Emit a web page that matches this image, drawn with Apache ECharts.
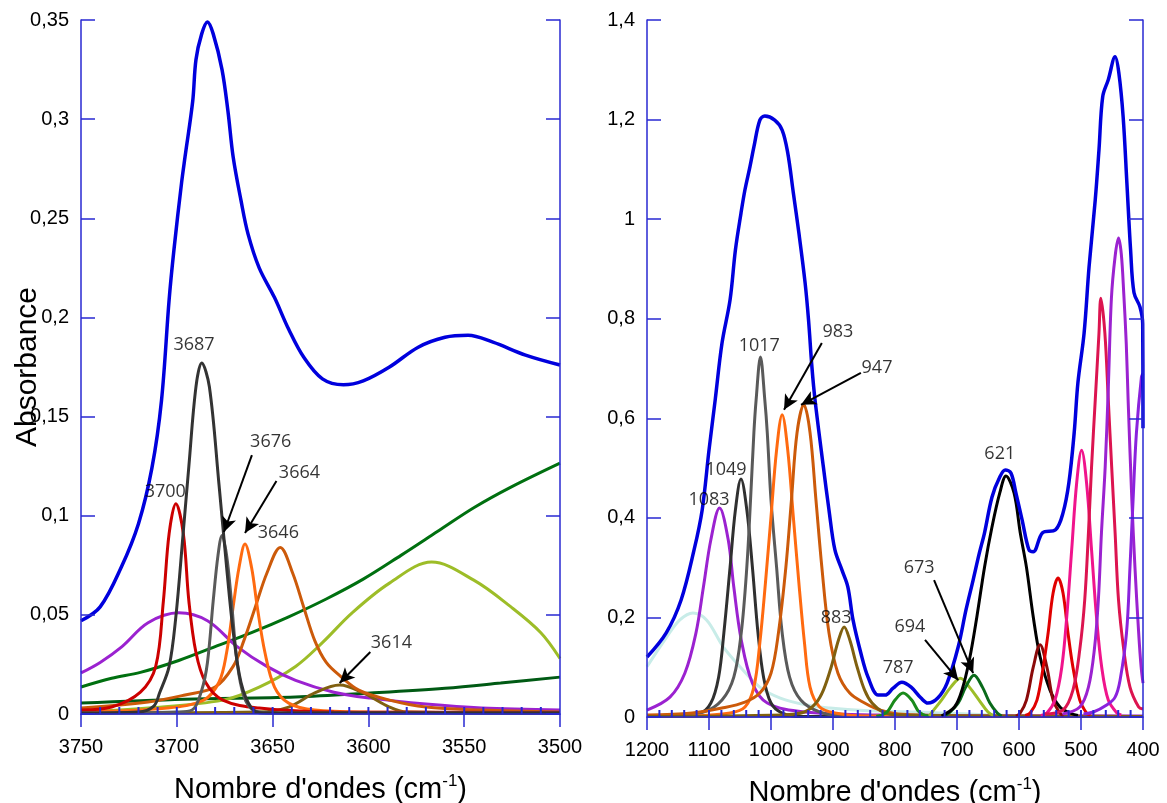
<!DOCTYPE html>
<html><head><meta charset="utf-8">
<script src="https://cdn.jsdelivr.net/npm/echarts@6/dist/echarts.min.js"></script>
<style>html,body{margin:0;padding:0;background:#fff}#c{width:1167px;height:803px}</style>
</head><body><div id="c"></div>
<script>
// ---------- LEFT PANEL DATA (wavenumber cm-1, absorbance) ----------
const L_total = [[3750,0.047],[3740,0.054],[3729,0.074],[3720,0.096],[3713,0.124],[3708,0.158],[3704,0.209],[3701.5,0.234],[3697.5,0.268],[3695.7,0.281],[3691.7,0.309],[3690,0.330],[3687,0.343],[3684,0.349],[3681,0.343],[3676.4,0.325],[3673.3,0.304],[3670.6,0.281],[3666.5,0.259],[3662.8,0.242],[3657,0.225],[3649,0.210],[3641.6,0.194],[3633.8,0.180],[3624,0.169],[3613,0.166],[3602.7,0.168],[3589,0.175],[3574,0.185],[3560,0.190],[3548,0.191],[3535,0.1875],[3518,0.181],[3500,0.176]];
const L_3687 = [[3750,0.0005],[3720,0.001],[3712,0.004],[3709,0.0106],[3704,0.024],[3700.5,0.049],[3696.7,0.091],[3693.7,0.125],[3690,0.165],[3687,0.177],[3683,0.165],[3678,0.116],[3674,0.074],[3670.5,0.041],[3666.5,0.016],[3661,0.003],[3655,0.0005],[3500,0.0005]];
const L_3676 = [[3750,0.0005],[3700,0.001],[3692,0.002],[3687,0.012],[3684,0.026],[3681,0.057],[3678.5,0.080],[3676.4,0.090],[3674,0.080],[3671.5,0.057],[3668.5,0.026],[3665,0.009],[3660,0.002],[3650,0.0005],[3500,0.0005]];
const L_3700 = [[3750,0.002],[3734,0.0035],[3719,0.011],[3711,0.024],[3707,0.057],[3704,0.091],[3700.5,0.106],[3696.6,0.091],[3693.7,0.057],[3690,0.031],[3685,0.016],[3676,0.007],[3657,0.003],[3618,0.001],[3500,0.0008]];
const L_3664 = [[3750,0.001],[3705,0.003],[3686,0.007],[3678,0.016],[3674,0.031],[3670.6,0.054],[3667.5,0.074],[3664.4,0.0857],[3661,0.074],[3658,0.054],[3654,0.031],[3649,0.0136],[3641.6,0.0055],[3628,0.002],[3600,0.001],[3500,0.0005]];
const L_3646 = [[3750,0.003],[3715,0.006],[3695.7,0.0096],[3680,0.0136],[3670.6,0.024],[3665,0.037],[3659,0.054],[3653,0.071],[3646,0.084],[3639.5,0.071],[3633.8,0.054],[3628,0.037],[3622,0.026],[3614.5,0.019],[3605,0.012],[3589,0.007],[3570,0.0035],[3541,0.002],[3500,0.001]];
const L_3614 = [[3750,0.0005],[3657,0.001],[3641.6,0.0035],[3628,0.0106],[3615,0.0146],[3602.7,0.0106],[3589,0.0035],[3580,0.001],[3500,0.0005]];
const L_3567 = [[3750,0.001],[3715,0.003],[3676,0.007],[3657,0.0136],[3638,0.024],[3624,0.036],[3608.5,0.051],[3589,0.066],[3567,0.0766],[3545,0.0675],[3525.6,0.054],[3510,0.041],[3500,0.028]];
const L_3699b = [[3750,0.0207],[3740,0.026],[3728.6,0.034],[3715,0.046],[3699,0.051],[3684,0.047],[3668.5,0.034],[3653,0.024],[3638,0.017],[3618,0.011],[3599,0.008],[3570,0.005],[3541,0.003],[3500,0.002]];
const L_green1 = [[3750,0.0136],[3734,0.018],[3719,0.021],[3699,0.027],[3680,0.034],[3661,0.041],[3641.6,0.049],[3622,0.058],[3602.7,0.068],[3583,0.080],[3564,0.092],[3545,0.104],[3525.6,0.1144],[3500,0.1265]];
const L_green2 = [[3750,0.0055],[3696,0.0075],[3638,0.0086],[3599,0.0106],[3560,0.013],[3531,0.0156],[3500,0.0186]];
const L_base = [[3750,0.0005],[3500,0.0005]];

// ---------- RIGHT PANEL DATA ----------
const R_total = [[1200,0.1205],[1169,0.169],[1145,0.235],[1124,0.336],[1111,0.416],[1100,0.536],[1090,0.637],[1079,0.751],[1066,0.838],[1057.4,0.938],[1048.4,1.012],[1042,1.059],[1034,1.105],[1027.6,1.145],[1018,1.199],[1010,1.207],[994,1.199],[982,1.179],[973,1.133],[964,1.053],[955,0.972],[945,0.872],[939.5,0.798],[934,0.703],[929,0.637],[915.5,0.502],[906.5,0.416],[897,0.336],[885.5,0.295],[876,0.261],[867.7,0.195],[855,0.128],[843.5,0.080],[827,0.044],[816,0.044],[803,0.058],[789,0.070],[774,0.060],[758,0.038],[747,0.028],[731,0.038],[716,0.068],[698,0.141],[685.5,0.215],[674,0.275],[664,0.329],[655.6,0.370],[643.5,0.442],[631,0.482],[622,0.496],[613,0.490],[605,0.450],[595,0.396],[584,0.336],[577,0.332],[562,0.370],[541,0.376],[529,0.410],[519.6,0.470],[511,0.571],[505,0.671],[495,0.771],[487,0.904],[477,1.039],[471,1.139],[465,1.246],[456,1.280],[445,1.326],[439,1.294],[432,1.205],[426,1.073],[420,0.938],[414.5,0.852],[405,0.824],[400.5,0.79],[400,0.58]];
const R_1125 = [[1200,0.101],[1168,0.161],[1147,0.195],[1126,0.209],[1104,0.195],[1077,0.141],[1050,0.101],[1018,0.060],[985,0.038],[942,0.024],[905,0.018],[850,0.013],[764,0.010],[643,0.004],[523,0.002],[400,0.001]];
const R_1083 = [[1200,0.014],[1163,0.040],[1139,0.088],[1121,0.169],[1109,0.261],[1097,0.356],[1083,0.420],[1069,0.356],[1060,0.261],[1048,0.155],[1030,0.068],[1006,0.028],[946,0.010],[824,0.004],[400,0.002]];
const R_1049 = [[1200,0.001],[1115,0.008],[1097,0.028],[1084.5,0.080],[1076,0.169],[1066,0.301],[1057.4,0.416],[1048.4,0.478],[1039,0.416],[1030,0.301],[1021,0.169],[1012,0.080],[1000,0.028],[982,0.008],[950,0.001],[400,0.001]];
const R_1017 = [[1200,0.002],[1165,0.004],[1109,0.010],[1079,0.034],[1060,0.080],[1048,0.169],[1039,0.301],[1033,0.436],[1027.6,0.571],[1024,0.637],[1017,0.723],[1010,0.637],[1006,0.571],[1000,0.436],[991,0.301],[982,0.169],[970,0.080],[952,0.034],[921.5,0.010],[880,0.002],[400,0.001]];
const R_983 = [[1200,0.001],[1127,0.002],[1066,0.008],[1042,0.020],[1027.6,0.060],[1018,0.149],[1009,0.269],[1000,0.402],[991,0.536],[982,0.607],[973,0.536],[964,0.402],[955,0.269],[946,0.149],[937,0.060],[921.5,0.020],[897,0.008],[850,0.002],[400,0.001]];
const R_947 = [[1200,0.004],[1127,0.008],[1079,0.018],[1042,0.030],[1018,0.048],[1000,0.088],[988,0.169],[976,0.301],[967,0.436],[958,0.571],[947,0.627],[937,0.571],[927.5,0.436],[918,0.301],[906.5,0.169],[892,0.088],[873,0.048],[849,0.028],[825,0.014],[795,0.006],[700,0.002],[400,0.001]];
const R_883 = [[1200,0.001],[982,0.004],[946,0.010],[927.5,0.028],[915.5,0.054],[903,0.100],[891,0.155],[882,0.181],[873,0.155],[861,0.100],[849,0.054],[837,0.028],[819,0.010],[795,0.004],[400,0.001]];
const R_787 = [[830,0.001],[813,0.010],[800,0.034],[787,0.048],[773,0.034],[761,0.010],[745,0.001]];
const R_694 = [[745,0.002],[740,0.010],[725,0.034],[710,0.060],[694.5,0.078],[680,0.060],[664.5,0.034],[650,0.010],[640,0.002]];
const R_673 = [[720,0.002],[713,0.008],[698,0.028],[686,0.060],[672.6,0.084],[659,0.060],[647,0.028],[635,0.008],[628,0.002]];
const R_621 = [[725,0.002],[704,0.020],[692,0.054],[680,0.115],[668,0.201],[655.6,0.301],[643.5,0.382],[631,0.450],[621,0.484],[608,0.450],[598,0.370],[588,0.301],[577,0.201],[566,0.121],[550,0.054],[534,0.020],[518,0.008],[505,0.003]];
const R_566 = [[605,0.002],[598,0.008],[588,0.034],[577,0.100],[566,0.145],[555,0.100],[545,0.034],[534,0.008],[528,0.002]];
const R_537 = [[590,0.003],[582,0.008],[571,0.034],[561,0.100],[553,0.169],[545,0.249],[537,0.279],[529,0.249],[521,0.169],[513,0.100],[502,0.034],[491,0.008],[485,0.003]];
const R_499 = [[565,0.003],[555,0.008],[542,0.034],[531,0.100],[523,0.201],[515,0.336],[507,0.470],[499,0.536],[491,0.470],[483,0.336],[475,0.201],[466.6,0.100],[456,0.034],[442,0.008],[435,0.004]];
const R_468 = [[560,0.006],[529,0.014],[513,0.054],[502,0.135],[494,0.235],[488,0.370],[483,0.502],[477,0.637],[471,0.771],[468,0.841],[461.5,0.771],[456,0.637],[450.5,0.502],[445,0.370],[439.5,0.235],[431,0.135],[421,0.060],[407,0.020],[400,0.016]];
const R_440 = [[530,0.006],[502,0.020],[488,0.060],[478.5,0.135],[472,0.235],[467,0.370],[461,0.502],[456,0.66],[451,0.84],[445,0.925],[439.5,0.962],[435,0.93],[431,0.85],[427,0.75],[424,0.637],[418,0.436],[413,0.301],[407,0.169],[403,0.10],[400,0.068]];
const R_400 = [[496,0.006],[480,0.010],[458.6,0.024],[445,0.040],[437,0.074],[426.6,0.169],[421,0.301],[416,0.436],[410.6,0.571],[402.5,0.683],[400,0.69]];
const R_base = [[1200,0.001],[400,0.001]];

// ---------- AXES / TICKS ----------
const L_xRange = [3500, 3750], L_xStep = 50, L_xMinorStep = 10;
const L_yRange = [0, 0.35], L_yStep = 0.05;
const R_xRange = [400, 1200], R_xStep = 100, R_xMinorStep = 20;
const R_yRange = [0, 1.4], R_yStep = 0.2;

// ---------- ANNOTATIONS (label text, label position) / arrows (start, tip) ----------
const L_labels = [['3687',3691,0.186],['3700',3706,0.112],['3676',3651,0.137],['3664',3636,0.1215],['3646',3647,0.0913],['3614',3588,0.0358]];
const L_arrows = [[3660.8,0.1306,3675.4,0.0918],[3648,0.1175,3664.4,0.0913],[3599,0.0313,3615,0.0156]];
const R_labels = [['1017',1019,0.745],['983',892,0.773],['947',829,0.701],['1049',1072.6,0.496],['1083',1100,0.436],['883',895,0.199],['787',795,0.098],['694',776,0.181],['673',761,0.299],['621',631,0.528]];
const R_arrows = [[918,0.751,979,0.617],[855,0.691,951.6,0.627],[751.6,0.155,698,0.074],[737,0.275,674,0.088]];

const AX = '#2828d2';
const FONT = 'Liberation Sans, Arial, sans-serif';
const fmt = v => (Math.round(v * 1000) / 1000).toString().replace('.', ',');
const fmtX = v => String(v);

function tickValues(range, step) {
  const out = [];
  for (let v = range[0] + step; v < range[1]; v += step) out.push([v, 0]);
  return out;
}

function xMain(grid, range, step) {
  return {
    gridIndex: grid, type: 'value', min: range[0], max: range[1], interval: step, inverse: true,
    position: 'bottom', z: 12,
    axisLine: { show: true, onZero: false, lineStyle: { color: AX, width: 1.5 } },
    axisTick: { show: true, inside: false, length: 13, lineStyle: { color: AX, width: 1.5 } },
    axisLabel: { color: '#000', fontSize: 20, fontFamily: FONT, margin: 23, formatter: fmtX },
    splitLine: { show: false },
    name: '{a|Nombre d\'ondes (cm}{s|-1}{a|)}',
    nameLocation: 'middle', nameGap: 59,
    nameTextStyle: {
      rich: {
        a: { fontSize: 29, fontFamily: FONT, color: '#000', lineHeight: 34 },
        s: { fontSize: 17, fontFamily: FONT, color: '#000', lineHeight: 34, verticalAlign: 'top', padding: [0, 0, 14, 0] }
      }
    }
  };
}
function yLeft(grid, range, step, name) {
  return {
    gridIndex: grid, type: 'value', min: range[0], max: range[1], interval: step, position: 'left', z: 12,
    axisLine: { show: true, onZero: false, lineStyle: { color: AX, width: 1.5 } },
    axisTick: { show: true, inside: true, length: 14, lineStyle: { color: AX, width: 1.5 } },
    axisLabel: { color: '#000', fontSize: 20, fontFamily: FONT, margin: 12, formatter: fmt },
    splitLine: { show: false },
    name: name || '', nameLocation: 'middle', nameGap: 38, nameMoveOverlap: false,
    nameTextStyle: { fontSize: 30, fontFamily: FONT, color: '#000' }
  };
}
function yRight(grid, range, step) {
  return {
    gridIndex: grid, type: 'value', min: range[0], max: range[1], interval: step, position: 'right', z: 12,
    axisLine: { show: true, onZero: false, lineStyle: { color: AX, width: 1.5 } },
    axisTick: { show: true, inside: true, length: 14, lineStyle: { color: AX, width: 1.5 } },
    axisLabel: { show: false }, splitLine: { show: false }
  };
}

function line(data, color, xi, yi, width) {
  return {
    type: 'line', data: data, xAxisIndex: xi, yAxisIndex: yi, showSymbol: false, symbol: 'none',
    smooth: 0.35, lineStyle: { color: color, width: width || 3 }, itemStyle: { color: color },
    silent: true, z: 2
  };
}
// small inward minor ticks on the x axis, placed through the axis scale
function minorTicks(range, step, xi, yi) {
  return {
    type: 'scatter', xAxisIndex: xi, yAxisIndex: yi, data: tickValues(range, step),
    symbol: 'rect', symbolSize: [2, 7], symbolOffset: [0, -3.5], clip: false,
    itemStyle: { color: AX, opacity: 1 }, silent: true, z: 20
  };
}
function annot(labels, arrows, xi, yi) {
  return {
    type: 'scatter', xAxisIndex: xi, yAxisIndex: yi, symbolSize: 0, silent: true, z: 10,
    data: labels.map(l => ({ name: l[0], value: [l[1], l[2]] })),
    label: { show: true, position: 'inside', formatter: '{b}', color: '#000', fontSize: 18, fontFamily: 'Open Sans, sans-serif', textBorderWidth: 0 },
    markLine: {
      silent: true, symbol: ['none', 'arrow'], symbolSize: [11, 15], animation: false,
      label: { show: false },
      lineStyle: { color: '#000', width: 2, type: 'solid' },
      data: arrows.map(a => [{ coord: [a[0], a[1]] }, { coord: [a[2], a[3]] }])
    }
  };
}

const chart = echarts.init(document.getElementById('c'), null, { renderer: 'canvas' });
chart.setOption({
  animation: false,
  backgroundColor: '#fff',
  grid: [
    { left: 81, top: 20, width: 479, height: 694, outerBoundsMode: 'none' },
    { left: 647, top: 20, width: 496, height: 697, outerBoundsMode: 'none' }
  ],
  xAxis: [xMain(0, L_xRange, L_xStep), xMain(1, R_xRange, R_xStep)],
  yAxis: [yLeft(0, L_yRange, L_yStep, 'Absorbance'), yRight(0, L_yRange, L_yStep), yLeft(1, R_yRange, R_yStep), yRight(1, R_yRange, R_yStep)],
  series: [
    line(L_base, '#000060', 0, 0, 2),
    line(L_green2, '#005a14', 0, 0),
    line(L_green1, '#007010', 0, 0),
    line(L_3567, '#9dbd28', 0, 0),
    line(L_3699b, '#9b22d0', 0, 0),
    line(L_3614, '#806010', 0, 0),
    line(L_3646, '#cc5a0a', 0, 0),
    line(L_3664, '#ff6a10', 0, 0),
    line(L_3700, '#cc0000', 0, 0),
    line(L_3676, '#5a5a5a', 0, 0),
    line(L_3687, '#333333', 0, 0),
    line(L_total, '#0000dd', 0, 0, 3.5),

    line(R_base, '#000060', 1, 2, 2),
    line(R_1125, '#c8ece8', 1, 2),
    line(R_1083, '#9b22d0', 1, 2),
    line(R_1049, '#303030', 1, 2),
    line(R_1017, '#5a5a5a', 1, 2),
    line(R_983, '#ff6a10', 1, 2),
    line(R_947, '#cc5a0a', 1, 2),
    line(R_883, '#806010', 1, 2),
    line(R_787, '#1a8a1a', 1, 2),
    line(R_694, '#9dbd28', 1, 2),
    line(R_673, '#0a6a1a', 1, 2),
    line(R_621, '#000000', 1, 2),
    line(R_566, '#8b0a0a', 1, 2),
    line(R_537, '#e00000', 1, 2),
    line(R_499, '#f0148c', 1, 2),
    line(R_468, '#dc1450', 1, 2),
    line(R_440, '#9b22d0', 1, 2),
    line(R_400, '#8a22dd', 1, 2),
    line(R_total, '#0000dd', 1, 2, 3.5),

    minorTicks(L_xRange, L_xMinorStep, 0, 0),
    minorTicks(R_xRange, R_xMinorStep, 1, 2),
    annot(L_labels, L_arrows, 0, 0),
    annot(R_labels, R_arrows, 1, 2)
  ]
});
</script></body></html>
